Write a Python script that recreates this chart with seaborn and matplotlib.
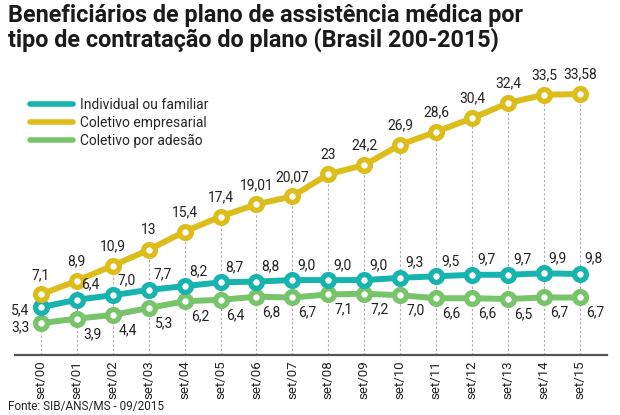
import matplotlib
matplotlib.use("Agg")
import matplotlib.pyplot as plt
import seaborn as sns
import pandas as pd
from matplotlib.lines import Line2D

periods = ["set/00", "set/01", "set/02", "set/03", "set/04", "set/05", "set/06", "set/07",
           "set/08", "set/09", "set/10", "set/11", "set/12", "set/13", "set/14", "set/15"]
individual = [5.4, 6.4, 7.0, 7.7, 8.2, 8.7, 8.8, 9.0, 9.0, 9.0, 9.3, 9.5, 9.7, 9.7, 9.9, 9.8]
empresarial = [7.1, 8.9, 10.9, 13, 15.4, 17.4, 19.01, 20.07, 23, 24.2, 26.9, 28.6, 30.4, 32.4, 33.5, 33.58]
adesao = [3.3, 3.9, 4.4, 5.3, 6.2, 6.4, 6.8, 6.7, 7.1, 7.2, 7.0, 6.6, 6.6, 6.5, 6.7, 6.7]
emp_txt = ["7,1", "8,9", "10,9", "13", "15,4", "17,4", "19,01", "20,07", "23", "24,2", "26,9",
           "28,6", "30,4", "32,4", "33,5", "33,58"]
series_names = ["Individual ou familiar", "Coletivo empresarial", "Coletivo por adesão"]
colors = ["#17b3ae", "#dcbd1a", "#78c46a"]

sns.set_style("white")
FONT = ["Roboto", "DejaVu Sans"]
plt.rcParams["font.family"] = FONT


def fmt(v):
    return f"{v:.1f}".replace(".", ",")


x = list(range(len(periods)))
df = pd.DataFrame({
    "x": x * 3,
    "value": individual + empresarial + adesao,
    "serie": [series_names[0]] * 16 + [series_names[1]] * 16 + [series_names[2]] * 16,
})

fig = plt.figure(figsize=(6.2, 4.15), dpi=100)
ax = fig.add_axes([0.024, 0.1446, 0.955, 0.66])

for xi, v in zip(x, empresarial):
    ax.plot([xi, xi], [-0.9, v], color="#aaaaaa", lw=0.8, ls=(0, (2, 2)), zorder=1)

order = [series_names[2], series_names[0], series_names[1]]
for name in order:
    c = colors[series_names.index(name)]
    sns.lineplot(data=df[df.serie == name], x="x", y="value", ax=ax, color=c, lw=4.3,
                 marker="o", markersize=8.5, markerfacecolor="white", markeredgecolor=c,
                 markeredgewidth=3.8, zorder=3, legend=False)

fs = 10
tc = "#222222"
for i, (xi, v) in enumerate(zip(x, empresarial)):
    ax.annotate(emp_txt[i], (xi, v), xytext=(0, 9), textcoords="offset points",
                ha="center", va="bottom", fontsize=fs, color=tc)
for i, (xi, v) in enumerate(zip(x, individual)):
    if i == 0:
        ax.annotate(fmt(v), (xi, v), xytext=(-8, -2), textcoords="offset points",
                    ha="right", va="center", fontsize=fs, color=tc)
    else:
        ax.annotate(fmt(v), (xi, v), xytext=(10, 11), textcoords="offset points",
                    ha="center", va="center", fontsize=fs, color=tc)
for i, (xi, v) in enumerate(zip(x, adesao)):
    if i == 0:
        ax.annotate(fmt(v), (xi, v), xytext=(-8, -3), textcoords="offset points",
                    ha="right", va="center", fontsize=fs, color=tc)
    else:
        ax.annotate(fmt(v), (xi, v), xytext=(11, -11), textcoords="offset points",
                    ha="center", va="center", fontsize=fs, color=tc)

ax.set_xlim(-0.72, 15.75)
ax.set_ylim(-0.9, 35.3)
ax.set_xticks(x)
ax.set_xticklabels(periods, rotation=90, fontsize=9.5, color=tc)
ax.set_yticks([])
ax.set_xlabel("")
ax.set_ylabel("")
for s in ["top", "right", "left"]:
    ax.spines[s].set_visible(False)
ax.spines["bottom"].set_color("#555555")
ax.spines["bottom"].set_linewidth(1.6)
ax.tick_params(axis="x", length=0, pad=4)

handles = [Line2D([0], [0], color=c, lw=4) for c in colors]
fig.legend(handles, series_names, loc="upper left", bbox_to_anchor=(0.028, 0.795),
           frameon=False, fontsize=10, handlelength=3.1, labelspacing=0.3,
           handletextpad=0.5)

fig.text(0.013, 0.99, "Beneficiários de plano de assistência médica por\n"
         "tipo de contratação do plano (Brasil 200-2015)", ha="left", va="top",
         fontsize=16.8, fontweight="bold", color="#1a1a1a", linespacing=1.0)
fig.text(0.013, 0.006, "Fonte: SIB/ANS/MS - 09/2015", ha="left", va="bottom",
         fontsize=8.5, color=tc)

fig.savefig("out.png", dpi=100, facecolor="white")
